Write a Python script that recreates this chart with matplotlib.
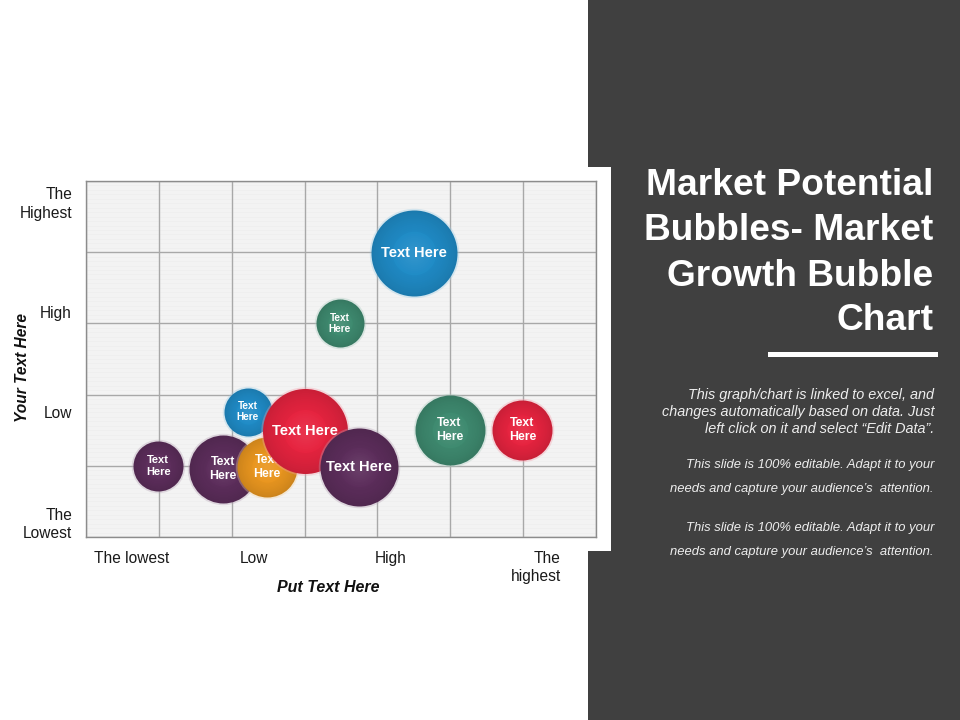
import numpy as np
import matplotlib
matplotlib.use("Agg")
import matplotlib.pyplot as plt
from matplotlib import font_manager
from matplotlib.patches import Rectangle
from matplotlib.colors import to_rgb

# ---------------- data ----------------
x_tick_labels = ["The lowest", "Low", "High", "The\nhighest"]
x_tick_pos = [0.63, 2.30, 4.18, 6.17]
y_tick_labels = ["The\nLowest", "Low", "High", "The\nHighest"]
y_tick_pos = [0.22, 1.76, 3.16, 4.72]

# bubbles listed in drawing order (back to front)
bubble_x = [0.99, 2.22, 1.88, 2.48, 3.00, 3.745, 3.48, 4.50, 4.99, 5.99]
bubble_y = [1.00, 1.76, 0.95, 0.98, 1.49, 0.98, 3.00, 3.99, 1.50, 1.50]
bubble_size = [25, 24, 34, 30, 42.5, 39, 24, 43, 35, 30]
bubble_color = ["#5c2d5b", "#1f8bc6", "#5c2d5b", "#e9961f", "#e6233f",
                "#5c2d5b", "#3e8a6f", "#1f8bc6", "#3e8a6f", "#e6233f"]
bubble_label = ["Text\nHere", "Text\nHere", "Text\nHere", "Text\nHere", "Text Here",
                "Text Here", "Text\nHere", "Text Here", "Text\nHere", "Text\nHere"]

title_lines = ["Market Potential", "Bubbles- Market", "Growth Bubble", "Chart"]
para1 = ["This graph/chart is linked to excel, and",
         "changes automatically based on data. Just",
         "left click on it and select \u201cEdit Data\u201d."]
para2 = ["This slide is 100% editable. Adapt it to your",
         "needs and capture your audience\u2019s  attention.",
         "This slide is 100% editable. Adapt it to your",
         "needs and capture your audience\u2019s  attention."]

# ---------------- fonts ----------------
names = {f.name for f in font_manager.fontManager.ttflist}
SANS = "Liberation Sans"
NARROW = "Liberation Sans Narrow" if "Liberation Sans Narrow" in names else SANS

W, H, DPI = 960, 720, 100
fig = plt.figure(figsize=(W / DPI, H / DPI), dpi=DPI, facecolor="white")


def fx(px):
    return px / W


def fy(py):
    return 1 - py / H


# background panels
fig.add_artist(Rectangle((fx(588), 0), 1 - fx(588), 1, transform=fig.transFigure,
                         facecolor="#404040", edgecolor="none", zorder=-3))
fig.add_artist(Rectangle((0, fy(551)), fx(611), fy(167) - fy(551), transform=fig.transFigure,
                         facecolor="white", edgecolor="none", zorder=-2))

ax = fig.add_axes([fx(86), fy(537), fx(596) - fx(86), fy(181) - fy(537)])
ax.set_facecolor("#f3f3f3")
ax.set_xlim(0, 7)
ax.set_ylim(0, 5)

# faint stripes
for yy in np.arange(0, 5, 1 / 16):
    ax.axhline(yy, color="#ededed", lw=0.45, zorder=0.3)

ax.set_xticks(np.arange(0, 8), minor=True)
ax.set_yticks(np.arange(0, 6), minor=True)
ax.grid(which="minor", color="#a8a8a8", lw=1.0, zorder=0.5)
ax.set_axisbelow(True)
ax.set_xticks(x_tick_pos)
ax.set_xticklabels(x_tick_labels, multialignment="right")
ax.set_yticks(y_tick_pos)
ax.set_yticklabels(y_tick_labels, multialignment="right")
ax.tick_params(which="both", length=0)
ax.tick_params(axis="x", pad=10)
ax.tick_params(axis="y", pad=10)
for lab in ax.get_xticklabels() + ax.get_yticklabels():
    lab.set_fontfamily(SANS)
    lab.set_fontsize(11.2)
    lab.set_color("#1a1a1a")
    lab.set_linespacing(1.3)
for sp in ax.spines.values():
    sp.set_color("#8c8c8c")
    sp.set_linewidth(1.0)


def mix(c, t, target):
    c = np.array(to_rgb(c))
    target = np.array(to_rgb(target))
    return tuple(c + (target - c) * t)


n_layers = 20
for i, (x, y, r, c, lab) in enumerate(zip(bubble_x, bubble_y, bubble_size,
                                          bubble_color, bubble_label)):
    z = 2 + i
    d_pt = 2 * r * 72 / DPI
    # soft glow
    ax.scatter([x], [y], s=(d_pt + 2.5) ** 2, color=mix(c, 0.55, "white"),
               alpha=0.35, linewidths=0, zorder=z)
    for k in range(n_layers):
        t = k / (n_layers - 1)
        f = 1 - 0.85 * t
        col = mix(c, 0.12 * (1 - t) ** 2, "black") if t < 0.55 else mix(c, 0.07 * (t - 0.55) / 0.45, "white")
        ax.scatter([x], [y], s=(d_pt * f) ** 2, color=col, linewidths=0,
                   zorder=z + 0.01 * (k + 1))
    if "\n" in lab:
        fs = 8.8 if r >= 30 else (8.0 if r >= 25 else 7.2)
    else:
        fs = 10.5
    ax.text(x, y, lab, ha="center", va="center", color="white", fontweight="bold",
            fontsize=fs, family=NARROW, linespacing=1.2, multialignment="center",
            zorder=z + 0.5)

ax.set_xlabel("Put Text Here", fontsize=11.5, fontweight="bold", fontstyle="italic",
              family=SANS, color="#111111")
ax.xaxis.set_label_coords((328 - 86) / (596 - 86), -(588 - 537) / (537 - 181))
ax.set_ylabel("Your Text Here", fontsize=11.2, fontweight="bold", fontstyle="italic",
              family=SANS, color="#111111")
ax.yaxis.set_label_coords(-(86 - 23) / (596 - 86), (537 - 368) / (537 - 181))
ax.xaxis.label.set_va("center")
ax.yaxis.label.set_va("center")

# right panel text
title_base = [195, 240.5, 285.5, 330.5]
for t, b in zip(title_lines, title_base):
    fig.text(fx(933), fy(b), t, ha="right", va="baseline", fontsize=26.7,
             fontweight="bold", color="white", family=SANS)

fig.add_artist(Rectangle((fx(768), fy(357)), fx(938) - fx(768), fy(352) - fy(357),
                         transform=fig.transFigure, facecolor="white", edgecolor="none"))

for t, b in zip(para1, [399, 416, 433]):
    fig.text(fx(934), fy(b), t, ha="right", va="baseline", fontsize=10.4,
             fontstyle="italic", color="#eeeeee", family=SANS)
for t, b in zip(para2, [468, 492, 530.5, 555]):
    fig.text(fx(934), fy(b), t, ha="right", va="baseline", fontsize=9.4,
             fontstyle="italic", color="#eeeeee", family=SANS)

fig.savefig("out.png", dpi=DPI, facecolor="white")
